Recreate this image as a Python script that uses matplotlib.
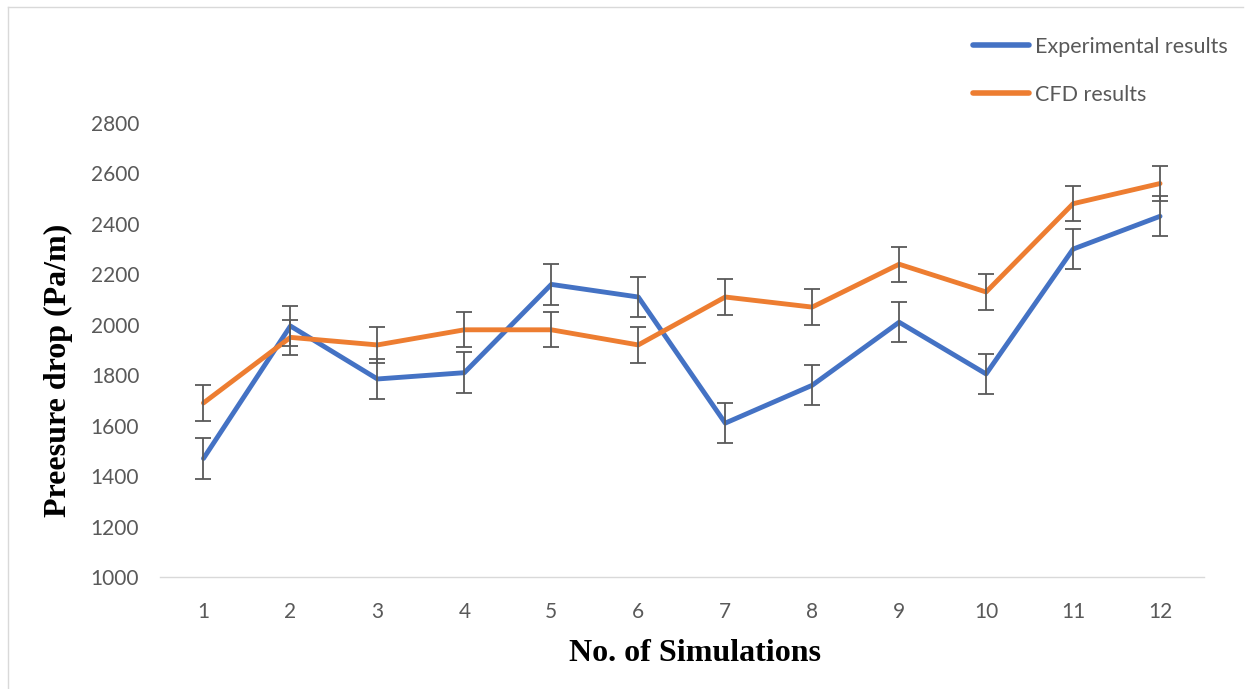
import numpy as np
import matplotlib.pyplot as plt
from matplotlib.lines import Line2D

# Pressure drop per simulation run
simulations = [1, 2, 3, 4, 5, 6, 7, 8, 9, 10, 11, 12]
experimental = [1470, 1995, 1785, 1810, 2160, 2110, 1610, 1760, 2010, 1805, 2300, 2430]
cfd = [1690, 1950, 1920, 1980, 1980, 1920, 2110, 2070, 2240, 2130, 2480, 2560]
exp_err = 80
cfd_err = 70
y_ticks = [1000, 1200, 1400, 1600, 1800, 2000, 2200, 2400, 2600, 2800]

blue = '#4472C4'
orange = '#ED7D31'
grey = '#595959'

fig = plt.figure(figsize=(12.53, 6.89), dpi=100)
ax = fig.add_axes([0.1277, 0.1626, 0.8328, 0.6589])

ax.plot(simulations, experimental, color=blue, lw=3.5, label='Experimental results',
        solid_capstyle='round', solid_joinstyle='round', zorder=2)
ax.plot(simulations, cfd, color=orange, lw=3.5, label='CFD results',
        solid_capstyle='round', solid_joinstyle='round', zorder=2)

ax.errorbar(simulations, experimental, yerr=exp_err, fmt='none', ecolor=grey,
            elinewidth=1.3, capsize=5.5, capthick=1.3, zorder=3)
ax.errorbar(simulations, cfd, yerr=cfd_err, fmt='none', ecolor=grey,
            elinewidth=1.3, capsize=5.5, capthick=1.3, zorder=3)

ax.set_xlim(0.5, 12.5)
ax.set_ylim(1000, 2800)
ax.set_xticks(simulations)
ax.set_yticks(y_ticks)

for side in ['top', 'right', 'left']:
    ax.spines[side].set_visible(False)
ax.spines['bottom'].set_color('#D9D9D9')
ax.spines['bottom'].set_linewidth(1.0)
ax.tick_params(axis='both', length=0, labelsize=15, labelcolor=grey)
ax.tick_params(axis='x', pad=18)
ax.tick_params(axis='y', pad=15)
for lbl in ax.get_xticklabels() + ax.get_yticklabels():
    lbl.set_family('Lato')

ax.set_xlabel('No. of Simulations', family='Liberation Serif', fontweight='bold',
              fontsize=23, labelpad=12)
ax.set_ylabel('Preesure drop (Pa/m)', family='Liberation Serif', fontweight='bold',
              fontsize=23, labelpad=13)
ax.xaxis.label.set_x(0.513)
ax.yaxis.label.set_y(0.455)

leg = fig.legend(loc='upper right', bbox_to_anchor=(0.995, 0.975), frameon=False,
                 prop={'family': 'Lato', 'size': 15.5}, labelcolor=grey,
                 handlelength=2.6, handletextpad=0.25, labelspacing=1.3)
for h in leg.legend_handles:
    h.set_linewidth(4)

# chart border along the left and top edges
fig.add_artist(Line2D([0.0064, 0.0064], [0.0, 0.99], transform=fig.transFigure,
                      color='#D9D9D9', lw=1.0))
fig.add_artist(Line2D([0.0064, 0.992], [0.99, 0.99], transform=fig.transFigure,
                      color='#D9D9D9', lw=1.0))

fig.savefig('out.png', dpi=100)
